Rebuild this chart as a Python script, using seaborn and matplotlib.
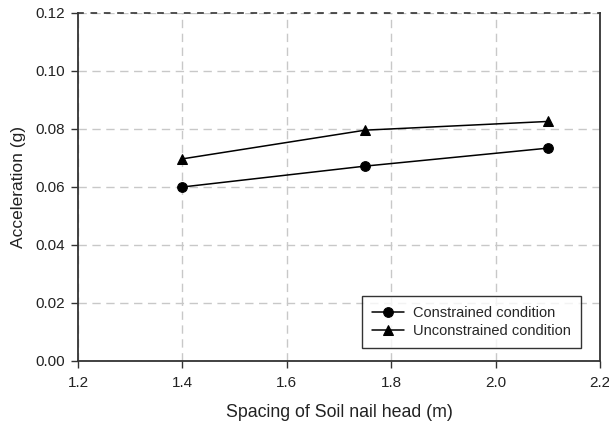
import matplotlib
matplotlib.use("Agg")
import matplotlib.pyplot as plt
import seaborn as sns
import pandas as pd

spacing = [1.4, 1.75, 2.1]
constrained = [0.0600, 0.0672, 0.0734]
unconstrained = [0.0697, 0.0796, 0.0826]
series_names = ["Constrained condition", "Unconstrained condition"]
x_ticks = [1.2, 1.4, 1.6, 1.8, 2.0, 2.2]
y_ticks = [0.00, 0.02, 0.04, 0.06, 0.08, 0.10, 0.12]

df = pd.DataFrame({
    "x": spacing * 2,
    "y": constrained + unconstrained,
    "series": [series_names[0]] * 3 + [series_names[1]] * 3,
})

sns.set_style("white")
plt.rcParams["font.family"] = ["Liberation Sans", "DejaVu Sans"]

fig = plt.figure(figsize=(6.09, 4.26), dpi=100)
ax = fig.add_axes([78 / 609, 1 - 361 / 426, (600 - 78) / 609, (361 - 13) / 426])

sns.lineplot(data=df, x="x", y="y", hue="series", style="series",
             markers={series_names[0]: "o", series_names[1]: "^"},
             dashes=False, palette=["black", "black"], markersize=7,
             linewidth=1.1, markeredgecolor="black", ax=ax, legend=True)

ax.set_xlim(1.2, 2.2)
ax.set_ylim(0, 0.12)
ax.set_xticks(x_ticks)
ax.set_xticklabels([f"{v:.1f}" for v in x_ticks])
ax.set_yticks(y_ticks)
ax.set_yticklabels([f"{v:.2f}" for v in y_ticks])
ax.grid(True, color="#c8c8c8", linestyle=(0, (6, 4)), linewidth=1.0)
ax.set_axisbelow(True)
ax.tick_params(axis="both", direction="out", length=5, width=1, color="#333333",
               labelsize=11, labelcolor="#222222", bottom=True, left=True)
ax.tick_params(axis="x", pad=6)
ax.tick_params(axis="y", pad=4)

for side in ["left", "bottom"]:
    ax.spines[side].set_color("#333333")
    ax.spines[side].set_linewidth(1.3)
ax.spines["right"].set_color("#333333")
ax.spines["right"].set_linewidth(1.3)
ax.spines["top"].set_color("#333333")
ax.spines["top"].set_linewidth(1.2)
ax.spines["top"].set_linestyle((0, (3, 5)))

ax.set_xlabel("Spacing of Soil nail head (m)", fontsize=12.8, color="#222222", labelpad=10)
ax.set_ylabel("Acceleration (g)", fontsize=12.5, color="#222222", labelpad=7)

leg = ax.legend(loc="lower right", bbox_to_anchor=(0.9636, 0.037), frameon=True,
                fancybox=False, edgecolor="black", fontsize=10.5, handlelength=2.2,
                borderpad=0.68, labelspacing=0.3, handletextpad=0.6, borderaxespad=0)
leg.get_frame().set_linewidth(1.0)

fig.savefig("out.png", dpi=100)
